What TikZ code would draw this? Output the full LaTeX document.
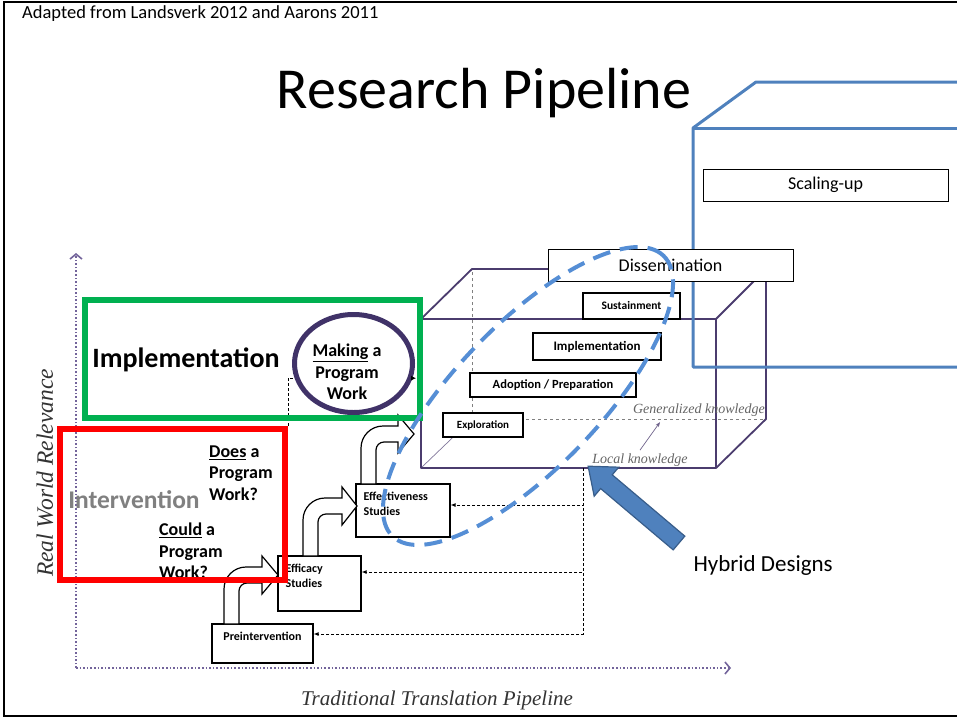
\documentclass[tikz,border=0pt]{standalone}
\usepackage{fontspec}
\setmainfont{Carlito}
\newfontfamily\axisfont{Liberation Serif}
\usetikzlibrary{arrows.meta,shapes.geometric}

\definecolor{boxblue}{RGB}{79,129,189}
\definecolor{dashblue}{RGB}{85,142,213}
\definecolor{arrowedge}{RGB}{56,93,138}
\definecolor{cubepurple}{RGB}{75,60,110}
\definecolor{ringpurple}{RGB}{64,50,104}
\definecolor{axispurple}{RGB}{115,100,155}
\definecolor{implgreen}{RGB}{0,176,80}
\definecolor{knowgray}{RGB}{100,100,100}

\tikzset{
  stagebox/.style={draw=black, line width=1.2pt, fill=white, inner sep=0pt},
  studybox/.style={draw=black, line width=1.2pt, fill=white, inner sep=0pt},
  studylabel/.style={font=\bfseries\fontsize{12}{15}\selectfont, align=left, inner xsep=8pt, inner ysep=8pt},
  labelbox/.style={draw=black, line width=0.8pt, fill=white, font=\fontsize{18}{21}\selectfont},
  feedback/.style={densely dashed, line width=0.9pt, -{Latex[length=5pt,width=4pt]}},
  axisline/.style={dotted, line width=1.6pt, axispurple, -{Straight Barb[length=5pt,width=12pt]}},
  cubeedge/.style={cubepurple, line width=1.8pt, line join=round},
  hiddenedge/.style={gray, line width=0.7pt, dashed},
  knowtext/.style={font=\axisfont\itshape\fontsize{14}{16}\selectfont, text=knowgray},
  bentarrow/.style={draw=black, fill=white, line width=1.2pt},
  question/.style={font=\bfseries\fontsize{18}{21.5}\selectfont, align=left, inner sep=0pt, anchor=west},
}

% turned block arrow: shaft x, shaft foot y, head centre y, head base x, tip x
\newcommand\turnarrow[5]{%
  \draw[bentarrow] (#1,#2) [rounded corners=22pt] -- (#1,#3-8) [sharp corners]
    -- (#4,#3-8) -- (#4,#3-19) -- (#5,#3) -- (#4,#3+19) -- (#4,#3+8)
    [rounded corners=8pt] -- (#1+15,#3+8) [sharp corners] -- (#1+15,#2) -- cycle;}

\begin{document}
\begin{tikzpicture}[x=1pt,y=-1pt]
\useasboundingbox (0,0) rectangle (957,720);
\draw[line width=2pt] (957,1.5) -- (4,1.5) -- (4,716) -- (957,716);

% axes
\coordinate (origin) at (76,668);
\coordinate (ytip) at (76,253);
\coordinate (xtip) at (731,668);
\draw[axisline] (origin) -- (ytip);
\draw[axisline] (origin) -- (xtip);
\node[rotate=90, font=\axisfont\itshape\fontsize{23.5}{27}\selectfont, text=black!80] (ylabel) at (45,473) {Real World Relevance};
\node[font=\axisfont\itshape\fontsize{21}{25}\selectfont, text=black!80] (xlabel) at (437,700) {Traditional Translation Pipeline};

% the cube
\coordinate (ftl) at (421,319);
\coordinate (ftr) at (716,319);
\coordinate (fbr) at (716,468);
\coordinate (fbl) at (421,468);
\coordinate (btl) at (472,269);
\coordinate (btr) at (766,269);
\coordinate (bbr) at (766,419);
\coordinate (bbl) at (472,419);
\draw[hiddenedge] (bbl) -- (btl);
\draw[hiddenedge] (bbl) -- (bbr);
\draw[cubepurple!70, line width=0.7pt] (bbl) -- (fbl);
\draw[cubeedge] (fbl) rectangle (ftr);
\draw[cubeedge] (ftl) -- (btl) -- (btr) -- (ftr);
\draw[cubeedge] (btr) -- (bbr) -- (fbr);

\node[stagebox, minimum width=80, minimum height=24, font=\bfseries\fontsize{11}{13}\selectfont] (explore) at (483,425) {Exploration};
\node[stagebox, minimum width=166, minimum height=24, font=\bfseries\fontsize{12.5}{14}\selectfont] (adopt) at (553,385) {Adoption / Preparation};
\node[stagebox, minimum width=128, minimum height=27, font=\bfseries\fontsize{13}{15}\selectfont] (implement) at (597,346.5) {Implementation};
\node[stagebox, minimum width=97, minimum height=26, font=\bfseries\fontsize{11.5}{13}\selectfont] (sustain) at (631.5,306) {Sustainment};

\node[knowtext] (general) at (699,410) {Generalized knowledge};
\node[knowtext] (local) at (640,460) {Local knowledge};
\draw[cubepurple!80, line width=0.7pt, -{Stealth[length=5pt]}] (local.north) -- ++(20,-28);

% study boxes and feedback
\node[studybox, minimum width=101, minimum height=39, label={[studylabel, anchor=north]north:Preintervention}] (pre) at (262.5,643.5) {};
\node[studybox, minimum width=83, minimum height=55, label={[studylabel, anchor=north west]north west:Efficacy\\Studies}] (efficacy) at (319.5,583.5) {};
\node[studybox, minimum width=94, minimum height=53, label={[studylabel, anchor=north west]north west:Effectiveness\\Studies}] (effect) at (403,510.5) {};

\coordinate (fbtop) at (583,468);
\draw[feedback] (fbtop) |- ([yshift=5.5pt]effect.east);
\draw[feedback] (fbtop) |- ([yshift=11.5pt]efficacy.east);
\draw[feedback] (fbtop) |- ([yshift=9.5pt]pre.east);

\turnarrow{224}{624}{575}{262}{278}
\turnarrow{303}{556}{506}{342}{357}
\turnarrow{361}{484}{434}{398}{414}

% implementation ring
\node[ellipse, draw=ringpurple, line width=5pt, minimum width=118, minimum height=98] (making) at (353.5,363.5) {};
\node[question, anchor=center, align=center] (makingtext) at (347,372) {\underline{Making} a\\Program\\Work};
\draw[line width=0.8pt, shorten >=5pt, -{Latex[length=5pt,width=5pt]}] (making.346) -- (making.346 -| ftl);

\node[font=\bfseries\fontsize{28}{33}\selectfont] (impllabel) at (186,360) {Implementation};
\node[font=\bfseries\fontsize{25.5}{30}\selectfont, text=gray] (intlabel) at (134,500) {Intervention};
\node[question] (does) at (209,473) {\underline{Does} a\\Program\\Work?};
\node[question] (could) at (159,551) {\underline{Could} a\\Program\\Work?};

\node[draw=red, line width=6pt, minimum width=225, minimum height=151] (interventionbox) at (172.5,504.5) {};
\draw[feedback, -] (interventionbox.north east) |- (making.194);
\node[draw=implgreen, line width=6pt, minimum width=335, minimum height=118] (implbox) at (252.5,359) {};

% scaling-up prism
\draw[boxblue, line width=3pt, line join=round] (957,82) -- (756,82) -- (693,128) -- (693,367) -- (957,367);
\draw[boxblue, line width=3pt] (693,128) -- (957,128);
\node[labelbox, minimum width=245, minimum height=32] (scaling) at (825.5,185) {Scaling-up};
\node[labelbox, minimum width=245, minimum height=32] (dissem) at (670.5,265) {Dissemination};

\draw[dashblue, line width=4pt, dash pattern=on 18pt off 10pt, rotate around={46:(528,396)}] (528,396) ellipse [x radius=195pt, y radius=72pt];

% hybrid designs
\begin{scope}[shift={(679,543)}, rotate=139.8]
  \draw[fill=boxblue, draw=arrowedge, line width=1.2pt] (0,-9) -- (95,-9) -- (95,-19) -- (119,0) -- (95,19) -- (95,9) -- (0,9) -- cycle;
\end{scope}
\node[anchor=west, font=\fontsize{23}{27}\selectfont] (hybrid) at (690,565) {Hybrid Designs};

\node[font=\fontsize{58}{64}\selectfont] (title) at (484,93) {Research Pipeline};
\node[anchor=west, inner sep=0pt, font=\fontsize{18.5}{22}\selectfont] (source) at (22,14) {Adapted from Landsverk 2012 and Aarons 2011};
\end{tikzpicture}
\end{document}
